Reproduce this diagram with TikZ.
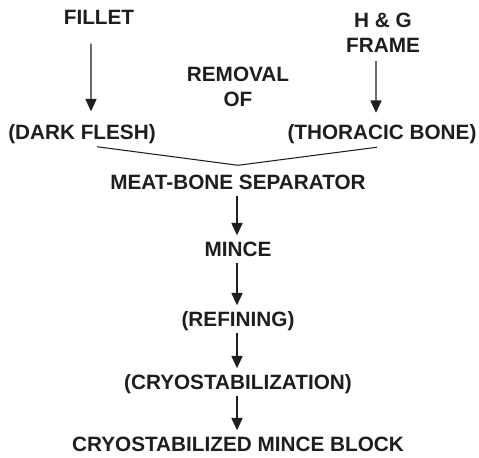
\documentclass[tikz,border=0pt]{standalone}
\usepackage{fontspec}
\setmainfont{Liberation Sans}
\usepackage{tikz}
\usetikzlibrary{arrows.meta,positioning,calc}
\definecolor{inkdark}{HTML}{1E1E1E}
\tikzset{
  stagenode/.style={inner sep=0pt,text=inkdark,text height=0.74em,text depth=0.1em,
    font=\bfseries\fontsize{11.8}{14}\selectfont},
  stacknode/.style={inner sep=0pt,text=inkdark,align=center,
    font=\bfseries\fontsize{11.8}{14.3}\selectfont},
  flowarrow/.style={-{Triangle[length=7pt,width=6.3pt]},line width=0.8pt,draw=inkdark},
  joinline/.style={line width=0.6pt,draw=inkdark}
}
\begin{document}
\begin{tikzpicture}[x=0.02cm,y=-0.02cm]
\path[use as bounding box] (0,0) rectangle (479,457);

% raw materials and what is taken out of them
\node[stagenode] (fillet) at (99,19) {FILLET};
\node[stacknode] (frame) at (383,33) {H \& G\\FRAME};
\node[stacknode] (removal) at (238,87) {REMOVAL\\OF};
\node[stagenode] (dark) at (82,134) {(DARK FLESH)};
\node[stagenode] (thoracic) at (382,134) {(THORACIC BONE)};

\draw[flowarrow,shorten <=0.34cm,shorten >=0.3cm]
  ([xshift=-0.16cm]fillet.south) -- ([xshift=0.18cm]dark.north);
\draw[flowarrow,shorten <=0.16cm,shorten >=0.27cm]
  ([xshift=-0.14cm]frame.south) -- ([xshift=-0.12cm]thoracic.north);

% processing line
\node[stagenode] (separator) at (238,184) {MEAT-BONE SEPARATOR};
\node[stagenode] (mince) at (238,251) {MINCE};
\node[stagenode] (refining) at (238,321) {(REFINING)};
\node[stagenode] (cryo) at (238,384) {(CRYOSTABILIZATION)};
\node[stagenode] (block) at (238,446) {CRYOSTABILIZED MINCE BLOCK};

\draw[joinline] ([xshift=0.3cm,yshift=-0.1cm]dark.south)
  -- ([yshift=0.22cm]separator.north)
  -- ([xshift=-0.1cm,yshift=-0.11cm]thoracic.south);

\foreach \from/\to in {separator/mince,mince/refining,refining/cryo,cryo/block}
  \draw[flowarrow,shorten <=0.08cm,shorten >=0.16cm]
    ([xshift=-0.02cm]\from.south) -- ([xshift=-0.02cm]\to.north);
\end{tikzpicture}
\end{document}
